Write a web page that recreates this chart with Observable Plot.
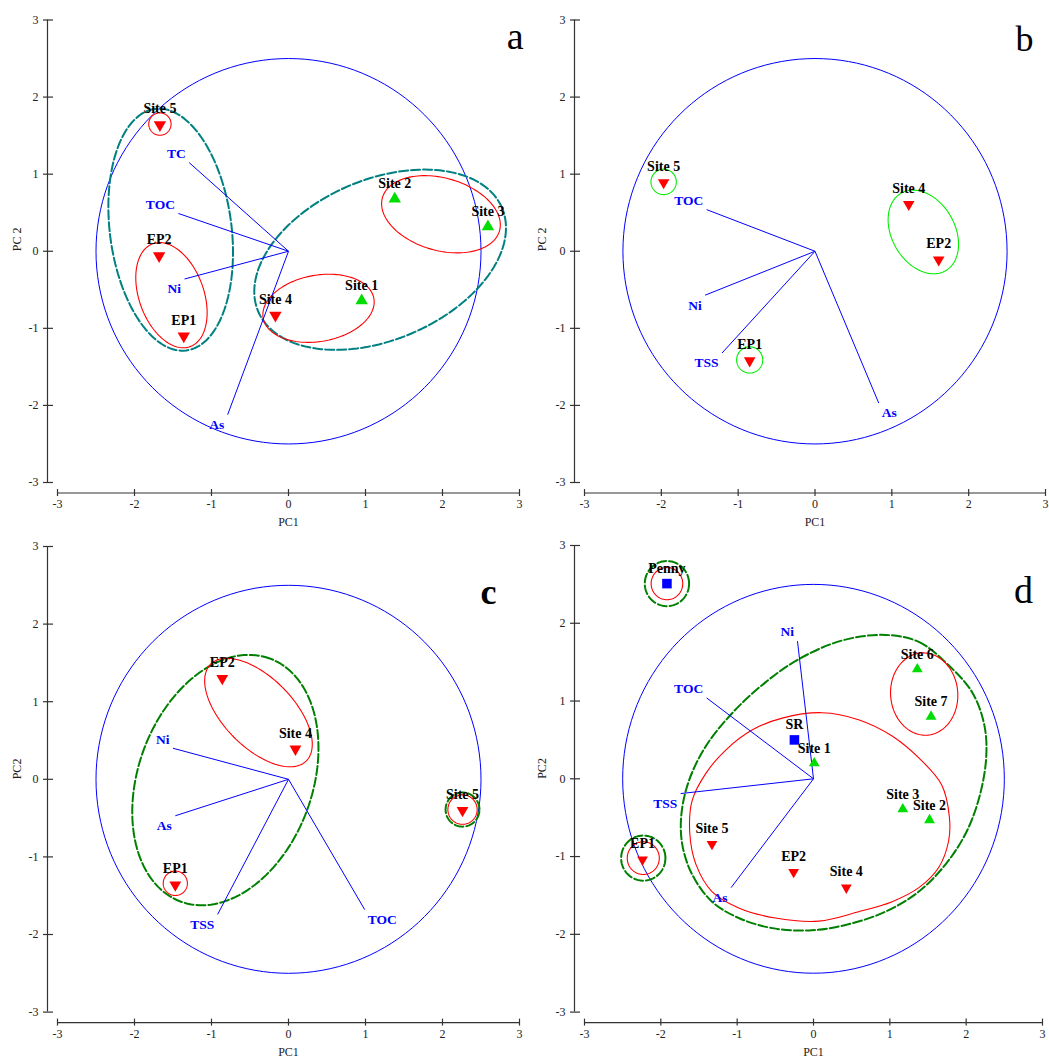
<!DOCTYPE html>
<html>
<head>
<meta charset="utf-8">
<script src="https://cdn.jsdelivr.net/npm/d3@7"></script>
<script src="https://cdn.jsdelivr.net/npm/@observablehq/plot@0.6"></script>
<style>
html,body{margin:0;padding:0;background:#fff;}
#wrap{position:relative;width:1049px;height:1061px;overflow:hidden;background:#fff;}
#wrap > div{position:absolute;}
</style>
</head>
<body>
<div id="wrap"></div>
<script>
const ticks = [-3, -2, -1, 0, 1, 2, 3];

// ---------- Panel a ----------
const aNames = ["Site 5", "EP2", "EP1", "Site 4", "Site 1", "Site 2", "Site 3"];
const aPC1 = [-1.67, -1.68, -1.36, -0.17, 0.95, 1.38, 2.59];
const aPC2 = [1.64, -0.06, -1.10, -0.83, -0.64, 0.68, 0.32];
const aShape = ["down", "down", "down", "down", "up", "up", "up"];
const aVars = ["TC", "TOC", "Ni", "As"];
const aLoad1 = [-1.29, -1.43, -1.35, -0.79];
const aLoad2 = [1.15, 0.49, -0.36, -2.12];
const aEllCx = [-1.52, 0.39, 1.98, -1.67, -1.53, 1.19];
const aEllCy = [-0.57, -0.74, 0.48, 1.65, 0.28, -0.11];
const aEllA = [0.71, 0.73, 0.79, 0.145, 1.58, 1.72];
const aEllB = [0.42, 0.43, 0.47, 0.145, 0.79, 1.04];
const aEllAngle = [110, 10, -15.8, 0, 97.4, 23];
const aEllKind = ["inner", "inner", "inner", "inner", "outer", "outer"];

// ---------- Panel b ----------
const bNames = ["Site 5", "Site 4", "EP2", "EP1"];
const bPC1 = [-1.97, 1.22, 1.61, -0.85];
const bPC2 = [0.89, 0.61, -0.11, -1.42];
const bShape = ["down", "down", "down", "down"];
const bVars = ["TOC", "Ni", "TSS", "As"];
const bLoad1 = [-1.41, -1.43, -1.21, 0.83];
const bLoad2 = [0.54, -0.57, -1.32, -1.97];
const bEllCx = [-1.97, -0.85, 1.41];
const bEllCy = [0.90, -1.41, 0.25];
const bEllA = [0.165, 0.17, 0.58];
const bEllB = [0.165, 0.17, 0.41];
const bEllAngle = [0, 0, -60];
const bEllKind = ["inner", "inner", "inner"];

// ---------- Panel c ----------
const cNames = ["EP2", "Site 4", "Site 5", "EP1"];
const cPC1 = [-0.86, 0.09, 2.26, -1.47];
const cPC2 = [1.30, 0.39, -0.40, -1.36];
const cShape = ["down", "down", "down", "down"];
const cVars = ["Ni", "As", "TSS", "TOC"];
const cLoad1 = [-1.50, -1.47, -0.92, 0.99];
const cLoad2 = [0.40, -0.47, -1.74, -1.68];
const cEllCx = [-0.39, -1.47, 2.26, 2.26, -0.82];
const cEllCy = [0.86, -1.34, -0.39, -0.39, -0.01];
const cEllA = [0.88, 0.157, 0.19, 0.22, 1.67];
const cEllB = [0.45, 0.157, 0.19, 0.22, 1.13];
const cEllAngle = [-45, 0, 0, 0, 69.5];
const cEllKind = ["inner", "inner", "inner", "outer", "outer"];

// ---------- Panel d ----------
const dNames = ["Penny", "SR", "Site 1", "Site 6", "Site 7", "Site 3", "Site 2", "Site 5", "EP1", "EP2", "Site 4"];
const dPC1 = [-1.92, -0.25, 0.01, 1.36, 1.54, 1.17, 1.52, -1.33, -2.24, -0.26, 0.43];
const dPC2 = [2.51, 0.50, 0.20, 1.41, 0.80, -0.39, -0.53, -0.84, -1.04, -1.20, -1.40];
const dShape = ["square", "square", "up", "up", "up", "up", "up", "down", "down", "down", "down"];
const dVars = ["Ni", "TOC", "TSS", "As"];
const dLoad1 = [-0.21, -1.40, -1.74, -1.08];
const dLoad2 = [1.77, 1.04, -0.19, -1.40];
const dEllCx = [-1.92, -1.92, -2.23, -2.23, 1.45];
const dEllCy = [2.51, 2.51, -1.02, -1.02, 1.09];
const dEllA = [0.207, 0.29, 0.21, 0.29, 0.53];
const dEllB = [0.207, 0.29, 0.21, 0.29, 0.44];
const dEllAngle = [0, 0, 0, 0, 95];
const dEllKind = ["inner", "outer", "inner", "outer", "inner"];
const dInnerX = [0.11, 0.59, 1.03, 1.42, 1.68, 1.78, 1.77, 1.64, 1.38, 1.03, 0.59, 0.07, -0.50, -0.98, -1.33, -1.54, -1.62, -1.59, -1.41, -1.15, -0.80, -0.41];
const dInnerY = [0.85, 0.76, 0.55, 0.23, -0.08, -0.49, -0.80, -1.14, -1.40, -1.58, -1.71, -1.83, -1.79, -1.66, -1.45, -1.10, -0.71, -0.28, 0.07, 0.37, 0.63, 0.78];
const dOuterX = [0.94, 1.38, 1.77, 2.08, 2.24, 2.26, 2.16, 1.99, 1.73, 1.38, 0.94, 0.42, -0.06, -0.54, -0.98, -1.33, -1.59, -1.72, -1.73, -1.63, -1.41, -1.06, -0.63, -0.19, 0.38];
const dOuterY = [1.85, 1.76, 1.46, 1.11, 0.68, 0.24, -0.28, -0.71, -1.10, -1.45, -1.71, -1.88, -1.95, -1.92, -1.79, -1.58, -1.23, -0.84, -0.45, -0.02, 0.42, 0.85, 1.24, 1.54, 1.78];

// ---------- helpers ----------
const SQ3 = Math.sqrt(3);
const triangleDown = {
  draw(context, size) {
    const y = -Math.sqrt(size / (SQ3 * 3));
    context.moveTo(0, -y * 2);
    context.lineTo(-SQ3 * y, y);
    context.lineTo(SQ3 * y, y);
    context.closePath();
  }
};

function ellipseRows(cx, cy, ea, eb, ang, kind) {
  const rows = [];
  cx.forEach((c, i) => {
    const t = ang[i] * Math.PI / 180, n = 144;
    for (let k = 0; k < n; k++) {
      const u = 2 * Math.PI * k / n;
      const ex = ea[i] * Math.cos(u), ey = eb[i] * Math.sin(u);
      rows.push({id: i, kind: kind[i],
        x: c + ex * Math.cos(t) - ey * Math.sin(t),
        y: cy[i] + ex * Math.sin(t) + ey * Math.cos(t)});
    }
  });
  return rows;
}

const serif = "'Liberation Serif', 'DejaVu Serif', serif";

function panel(cfg) {
  const pts = cfg.names.map((n, i) => ({name: n, x: cfg.pc1[i], y: cfg.pc2[i], shape: cfg.shape[i]}));
  const vec = cfg.vars.map((v, i) => ({v, x: cfg.load1[i], y: cfg.load2[i]}));
  const ell = ellipseRows(cfg.ell.cx, cfg.ell.cy, cfg.ell.a, cfg.ell.b, cfg.ell.angle, cfg.ell.kind);
  const circle = ellipseRows([0], [0], [2.5], [2.5], [0], ["loading"]);
  const marks = [
    // axes
    Plot.ruleX([-3], {y1: -3, y2: 3, dx: -10, stroke: "#333", strokeWidth: 1.2}),
    Plot.ruleY([-3], {x1: -3, x2: 3, dy: 10.5, stroke: "#333", strokeWidth: 1.2}),
    Plot.ruleY(ticks, {y: d => d, x1: -3, x2: -3, insetLeft: -14, insetRight: 4, stroke: "#333", strokeWidth: 1.2}),
    Plot.ruleX(ticks, {x: d => d, y1: -3, y2: -3, insetTop: 7, insetBottom: -14, stroke: "#333", strokeWidth: 1.2}),
    Plot.text(ticks, {x: d => d, y: -3, dy: 22, text: d => String(d), fontSize: 12, fill: "#222", lineAnchor: "middle"}),
    Plot.text(ticks, {y: d => d, x: -3, dx: -19, text: d => String(d), textAnchor: "end", fontSize: 12, fill: "#222", lineAnchor: "middle"}),
    Plot.text([cfg.xlabel], {frameAnchor: "bottom", dy: 40, text: d => d, fontSize: 12, fill: "#222", lineAnchor: "middle"}),
    Plot.text([cfg.ylabel], {frameAnchor: "left", dx: 17 - cfg.marginLeft, rotate: -90, text: d => d, fontSize: 12, fill: "#222", lineAnchor: "middle"}),
    // loading circle
    Plot.line(circle, {x: "x", y: "y", z: "id", curve: "linear-closed", stroke: "#0000ff", strokeWidth: 1}),
    // cluster outlines
    Plot.line(ell.filter(d => d.kind === "outer"), {x: "x", y: "y", z: "id", curve: "linear-closed", stroke: cfg.outerColor, strokeWidth: 2, strokeDasharray: "9,3"}),
  ];
  if (cfg.blobOuter) {
    const rows = cfg.blobOuter.x.map((x, i) => ({x, y: cfg.blobOuter.y[i]}));
    marks.push(Plot.line(rows, {x: "x", y: "y", curve: "catmull-rom-closed", stroke: cfg.outerColor, strokeWidth: 2, strokeDasharray: "9,3"}));
  }
  marks.push(Plot.line(ell.filter(d => d.kind === "inner"), {x: "x", y: "y", z: "id", curve: "linear-closed", stroke: cfg.innerColor, strokeWidth: 1.1}));
  if (cfg.blobInner) {
    const rows = cfg.blobInner.x.map((x, i) => ({x, y: cfg.blobInner.y[i]}));
    marks.push(Plot.line(rows, {x: "x", y: "y", curve: "catmull-rom-closed", stroke: cfg.innerColor, strokeWidth: 1.1}));
  }
  // loading vectors
  marks.push(Plot.link(vec, {x1: 0, y1: 0, x2: "x", y2: "y", stroke: "#0000ff", strokeWidth: 1}));
  for (const [fx, anchor, dx] of [[d => d.x < 0, "end", -3.5], [d => d.x >= 0, "start", 3]]) {
    for (const [fy, dy] of [[d => d.y >= 0, -9], [d => d.y < 0, 10]]) {
      marks.push(Plot.text(vec.filter(d => fx(d) && fy(d)), {x: "x", y: "y", text: "v", textAnchor: anchor, dx, dy, fill: "#0000ff", fontWeight: "bold", fontSize: 13.5, lineAnchor: "middle"}));
    }
  }
  // points
  marks.push(Plot.dot(pts.filter(d => d.shape === "down"), {x: "x", y: "y", symbol: triangleDown, r: cfg.r, fill: "#ff0000", stroke: "none"}));
  marks.push(Plot.dot(pts.filter(d => d.shape === "up"), {x: "x", y: "y", symbol: "triangle", r: cfg.r, fill: "#00dd00", stroke: "none"}));
  marks.push(Plot.dot(pts.filter(d => d.shape === "square"), {x: "x", y: "y", symbol: "square", r: 5.4, fill: "#0000ff", stroke: "none"}));
  marks.push(Plot.text(pts.filter(d => d.shape === "down"), {x: "x", y: "y", text: "name", dy: -16, fontWeight: "bold", fontSize: 14, fill: "#000", lineAnchor: "middle"}));
  marks.push(Plot.text(pts.filter(d => d.shape !== "down"), {x: "x", y: "y", text: "name", dy: -15, fontWeight: "bold", fontSize: 14, fill: "#000", lineAnchor: "middle"}));
  // panel letter
  marks.push(Plot.text([cfg.letter], {frameAnchor: "top-right", textAnchor: "end", lineAnchor: "middle", text: d => d, dx: cfg.letterDx, dy: cfg.letterDy, fontSize: cfg.letterSize, fontWeight: cfg.letterWeight, fill: "#000"}));

  const svg = Plot.plot({
    width: cfg.width, height: cfg.height,
    marginLeft: cfg.marginLeft, marginRight: cfg.marginRight,
    marginTop: cfg.marginTop, marginBottom: cfg.marginBottom,
    x: {domain: [-3, 3], axis: null},
    y: {domain: [-3, 3], axis: null},
    style: {fontFamily: serif, fontSize: "12px", background: "#fff", overflow: "visible"},
    marks
  });
  const div = document.createElement("div");
  div.style.left = cfg.left + "px";
  div.style.top = cfg.top + "px";
  div.appendChild(svg);
  document.getElementById("wrap").appendChild(div);
}

panel({left: 0, top: 0, width: 524, height: 530, marginLeft: 57, marginRight: 5, marginTop: 19.5, marginBottom: 48,
  names: aNames, pc1: aPC1, pc2: aPC2, shape: aShape, vars: aVars, load1: aLoad1, load2: aLoad2,
  ell: {cx: aEllCx, cy: aEllCy, a: aEllA, b: aEllB, angle: aEllAngle, kind: aEllKind},
  innerColor: "#ff0000", outerColor: "#008080", r: 4.6,
  xlabel: "PC1", ylabel: "PC 2", letter: "a", letterDx: 4, letterDy: 17, letterSize: 38, letterWeight: "normal"});

panel({left: 525, top: 0, width: 524, height: 530, marginLeft: 59, marginRight: 4, marginTop: 19.5, marginBottom: 48,
  names: bNames, pc1: bPC1, pc2: bPC2, shape: bShape, vars: bVars, load1: bLoad1, load2: bLoad2,
  ell: {cx: bEllCx, cy: bEllCy, a: bEllA, b: bEllB, angle: bEllAngle, kind: bEllKind},
  innerColor: "#00ee00", outerColor: "#008000", r: 4.3,
  xlabel: "PC1", ylabel: "PC 2", letter: "b", letterDx: -12, letterDy: 19, letterSize: 36, letterWeight: "normal"});

panel({left: 0, top: 530, width: 524, height: 531, marginLeft: 57, marginRight: 5, marginTop: 16, marginBottom: 49.4,
  names: cNames, pc1: cPC1, pc2: cPC2, shape: cShape, vars: cVars, load1: cLoad1, load2: cLoad2,
  ell: {cx: cEllCx, cy: cEllCy, a: cEllA, b: cEllB, angle: cEllAngle, kind: cEllKind},
  innerColor: "#ff0000", outerColor: "#008000", r: 4.4,
  xlabel: "PC1", ylabel: "PC2", letter: "c", letterDx: -23, letterDy: 46, letterSize: 36, letterWeight: "bold"});

panel({left: 525, top: 530, width: 524, height: 531, marginLeft: 59, marginRight: 7, marginTop: 15, marginBottom: 49.4,
  names: dNames, pc1: dPC1, pc2: dPC2, shape: dShape, vars: dVars, load1: dLoad1, load2: dLoad2,
  ell: {cx: dEllCx, cy: dEllCy, a: dEllA, b: dEllB, angle: dEllAngle, kind: dEllKind},
  blobInner: {x: dInnerX, y: dInnerY}, blobOuter: {x: dOuterX, y: dOuterY},
  innerColor: "#ff0000", outerColor: "#008000", r: 4.0,
  xlabel: "PC1", ylabel: "PC2", letter: "d", letterDx: -9.5, letterDy: 45, letterSize: 38, letterWeight: "normal"});
</script>
</body>
</html>
